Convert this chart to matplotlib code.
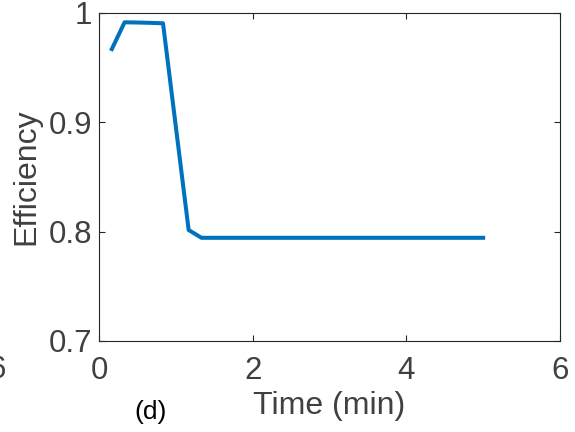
import numpy as np
import matplotlib.pyplot as plt

plt.rcParams['font.family'] = ['Liberation Sans', 'DejaVu Sans']

# efficiency over time (sampled every 10 s)
time_min = [0.167, 0.333, 0.5, 0.667, 0.833, 1.0, 1.167, 1.333, 1.5, 2.0, 3.0, 4.0, 5.0]
efficiency = [0.967, 0.9915, 0.9913, 0.991, 0.9906, 0.896, 0.8015, 0.7944,
              0.7944, 0.7944, 0.7944, 0.7944, 0.7944]

xticks = [0, 2, 4, 6]
yticks = [0.7, 0.8, 0.9, 1.0]
ytick_labels = ['0.7', '0.8', '0.9', '1']

text_col = '#404040'

fig = plt.figure(figsize=(5.75, 4.32), dpi=100)
ax = fig.add_axes([99 / 575, 1 - 341 / 432, 461 / 575, 328 / 432])

ax.plot(time_min, efficiency, color='#0072BD', linewidth=2.9)

ax.set_xlim(0, 6)
ax.set_ylim(0.7, 1.0)
ax.set_xticks(xticks)
ax.set_yticks(yticks)
ax.set_yticklabels(ytick_labels)

ax.tick_params(direction='in', top=True, right=True, length=4, width=0.8,
               color='#262626', labelsize=22.5, labelcolor=text_col)
ax.tick_params(axis='x', pad=11)
ax.tick_params(axis='y', pad=5)
for s in ax.spines.values():
    s.set_color('#262626')
    s.set_linewidth(0.8)

ax.set_xlabel('Time (min)', fontsize=23, color=text_col)
ax.set_ylabel('Efficiency', fontsize=23, color=text_col)
ax.xaxis.set_label_coords(0.5, (341 - 406) / 328)
ax.xaxis.label.set_va('center')
ax.yaxis.set_label_coords((26 - 99) / 461, 0.5)
ax.yaxis.label.set_va('center')

# panel label and leftover tick from the neighbouring panel
fig.text(151 / 575, 1 - 412 / 432, '(d)', fontsize=19, color='black',
         ha='center', va='center')
fig.text(-12 / 575, 1 - 370 / 432, '6', fontsize=22.5, color=text_col,
         ha='left', va='center')

fig.savefig('out.png', dpi=100)
